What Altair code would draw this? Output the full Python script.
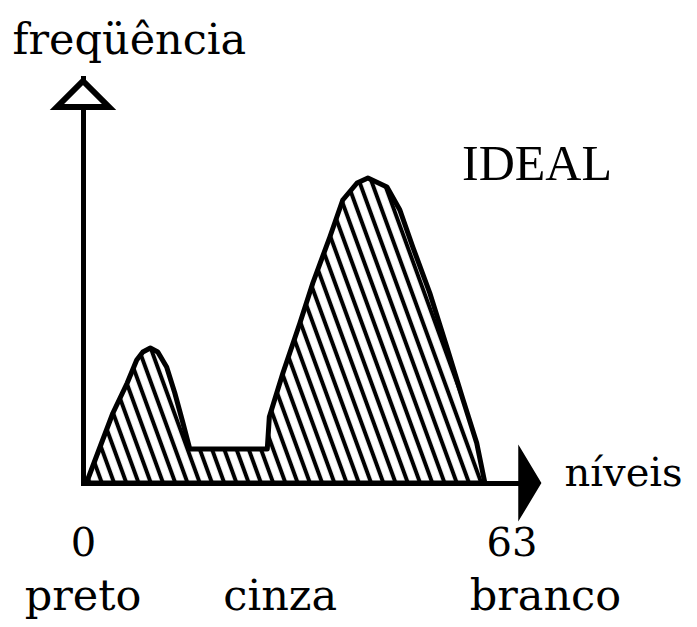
import altair as alt
import pandas as pd

# ---- data (gray level 0..63, relative frequency) ----
level = [0.5, 2.5, 4.4, 6.5, 7.9, 8.8, 9.9, 11.0, 12.3, 13.5, 14.7, 15.7,
         27.1, 27.4, 29.4, 31.9, 33.8, 36.3, 38.2, 40.3, 41.9, 44.7, 46.6,
         48.5, 51.0, 53.5, 55.9, 57.9, 59.1]
freq = [0, 9, 17.5, 25, 30.75, 32.75, 33.75, 32.75, 29, 22.5, 15, 8.5,
        8.5, 16.5, 27.5, 40, 50, 61.5, 70.75, 75, 76.25, 74, 68.25,
        59, 47.5, 34, 20.75, 10, 0]
tick_values = [0, 63]
names = ["preto", "cinza", "branco"]
name_level = [0, 29, 68]

X_MAX = 65
Y_MAX = 101.25

hist = pd.DataFrame({"level": level, "freq": freq})
names_df = pd.DataFrame({"name": names, "level": name_level})
y_tip = pd.DataFrame({"level": [0], "freq": [97.25]})
x_tip = pd.DataFrame({"level": [65.7], "freq": [0]})

FONT = "DejaVu Serif"

xs = alt.Scale(domain=[0, X_MAX], nice=False, zero=False)
ys = alt.Scale(domain=[0, Y_MAX], nice=False)

x_enc = alt.X(
    "level:Q", scale=xs,
    axis=alt.Axis(
        values=tick_values, title="níveis", ticks=False, grid=False,
        domainColor="black", domainWidth=5, domainCap="square",
        labelFont=FONT, labelFontSize=40, labelColor="black",
        labelBaseline="alphabetic", labelPadding=72, labelFlush=False,
        titleFont=FONT, titleFontSize=40, titleFontWeight="normal",
        titleColor="black", titleAlign="left", titleBaseline="alphabetic",
        titleX=481, titleY=2, titleAngle=0,
    ),
)
y_enc = alt.Y(
    "freq:Q", scale=ys,
    axis=alt.Axis(
        labels=False, ticks=False, grid=False, title="freqüência",
        domainColor="black", domainWidth=5, domainCap="square",
        titleFont=FONT, titleFontSize=43, titleFontWeight="normal",
        titleColor="black", titleAlign="left", titleBaseline="alphabetic",
        titleAngle=0, titleX=-71, titleY=-25,
    ),
)

area = alt.Chart(hist).mark_area(
    fill="url(#hatch)", stroke="black", strokeWidth=5,
    interpolate="linear", strokeJoin="round",
).encode(x=x_enc, y=y_enc)

y_arrow = alt.Chart(y_tip).mark_point(
    shape="M0,-0.5L1,0.5L-1,0.5Z", size=2704, filled=True,
    fill="white", stroke="black", strokeWidth=6, opacity=1,
).encode(x=alt.X("level:Q", scale=xs), y=alt.Y("freq:Q", scale=ys))

x_arrow = alt.Chart(x_tip).mark_point(
    shape="M-0.3,-1L0.3,0L-0.3,1Z", size=4900, filled=True,
    fill="black", stroke="black", strokeWidth=2, opacity=1,
).encode(x=alt.X("level:Q", scale=xs), y=alt.Y("freq:Q", scale=ys))

name_text = alt.Chart(names_df).mark_text(
    font=FONT, fontSize=43, color="black", baseline="alphabetic", align="center",
).encode(x=alt.X("level:Q", scale=xs), y=alt.value(532), text="name:N")

ideal = alt.Chart(pd.DataFrame({"t": ["IDEAL"]})).mark_text(
    font="Liberation Serif", fontSize=50, color="black",
    baseline="alphabetic", align="left",
).encode(x=alt.value(379), y=alt.value(102), text="t:N")

chart = alt.layer(area, y_arrow, x_arrow, name_text, ideal).properties(
    width=442, height=405,
    autosize=alt.AutoSizeParams(type="none"),
    padding={"left": 75, "top": 70, "right": 164, "bottom": 136},
    background="white",
).configure_view(stroke=None)

chart.save("out.html", embed_options={"renderer": "svg", "actions": False})

# hatch pattern used as the area's fill
defs = (
    '<svg width="0" height="0" style="position:absolute">'
    '<defs><pattern id="hatch" patternUnits="userSpaceOnUse" width="11.5" height="12" '
    'patternTransform="rotate(-20)">'
    '<line x1="5.75" y1="-2" x2="5.75" y2="14" stroke="black" stroke-width="4"/>'
    '</pattern></defs></svg>'
)
with open("out.html", encoding="utf-8") as f:
    html = f.read()
html = html.replace("<body>", "<body>\n" + defs, 1)
with open("out.html", "w", encoding="utf-8") as f:
    f.write(html)
